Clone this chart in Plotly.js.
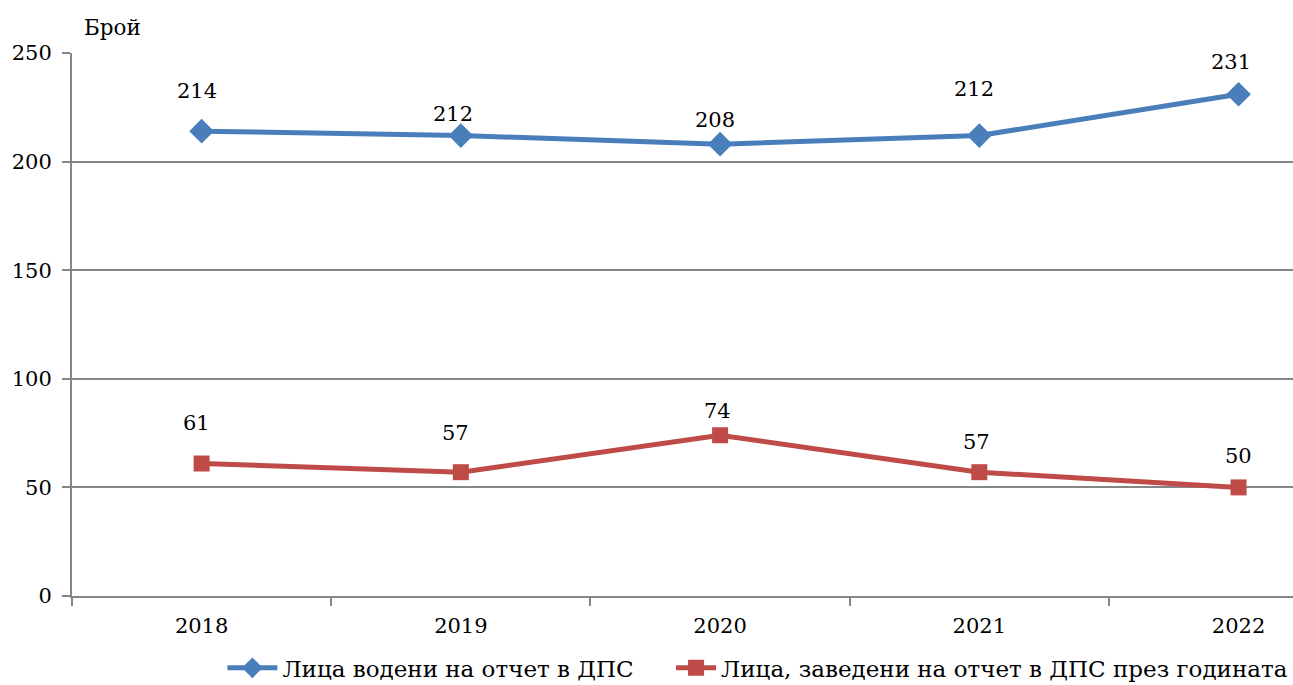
<!DOCTYPE html>
<html>
<head>
<meta charset="utf-8">
<script src="https://cdn.plot.ly/plotly-3.0.1.min.js"></script>
<style>html,body{margin:0;padding:0;background:#fff;}#chart{width:1293px;height:685px;}</style>
</head>
<body>
<div id="chart"></div>
<script>
var years = ['2018', '2019', '2020', '2021', '2022'];
var seriesNames = ['Лица водени на отчет в ДПС', 'Лица, заведени на отчет в ДПС през годината'];
var registered = [214, 212, 208, 212, 231];
var newlyRegistered = [61, 57, 74, 57, 50];
var yTicks = [0, 50, 100, 150, 200, 250];

// label offsets (px) – layout only
var offsetsBlue = [40, 22, 24, 47, 32];
var offsetsRed = [41, 39, 24, 30, 31];
var xShiftsBlue = [-5, -8, -5, -5, -8];
var xShiftsRed = [-5, -5, -3, -3, 0];

var font = 'DejaVu Serif';
var blue = '#4A7EBB';
var red = '#BE4B48';

var traces = [
  {x: years, y: registered, name: seriesNames[0], type: 'scatter', mode: 'lines+markers', legend: 'legend',
   line: {color: blue, width: 5}, marker: {symbol: 'diamond', size: 19, color: blue}},
  {x: years, y: newlyRegistered, name: seriesNames[1], type: 'scatter', mode: 'lines+markers', legend: 'legend2',
   line: {color: red, width: 5}, marker: {symbol: 'square', size: 16, color: red}}
];

var labelFont = {family: font, size: 21, color: '#000'};
var annotations = [];
years.forEach(function (yr, i) {
  annotations.push({x: i, y: registered[i], xref: 'x', yref: 'y', text: String(registered[i]),
    showarrow: false, yshift: offsetsBlue[i], xshift: xShiftsBlue[i], font: labelFont});
  annotations.push({x: i, y: newlyRegistered[i], xref: 'x', yref: 'y', text: String(newlyRegistered[i]),
    showarrow: false, yshift: offsetsRed[i], xshift: xShiftsRed[i], font: labelFont});
});
annotations.push({xref: 'paper', yref: 'paper', x: 0, y: 1, xanchor: 'left', yanchor: 'middle',
  xshift: 10, yshift: 26, text: 'Брой', showarrow: false, font: {family: font, size: 21.5, color: '#000'}});

var legendFont = {family: font, size: 23, color: '#000'};
var layout = {
  width: 1293, height: 685,
  margin: {l: 72, r: 0, t: 53, b: 89},
  paper_bgcolor: '#fff', plot_bgcolor: '#fff',
  font: {family: font, size: 21, color: '#000'},
  showlegend: true,
  legend: {orientation: 'h', xref: 'container', yref: 'container', x: 0.172, xanchor: 'left', y: 0.025, yanchor: 'middle',
    itemwidth: 50, font: legendFont, bgcolor: 'rgba(0,0,0,0)'},
  legend2: {orientation: 'h', xref: 'container', yref: 'container', x: 0.519, xanchor: 'left', y: 0.025, yanchor: 'middle',
    itemwidth: 40, font: legendFont, bgcolor: 'rgba(0,0,0,0)'},
  xaxis: {type: 'category', range: [-0.5, 4.21], tickson: 'boundaries', ticks: 'outside', ticklen: 8,
    tickcolor: '#868686', tickwidth: 2, showline: true, linecolor: '#868686', linewidth: 2,
    showgrid: false, zeroline: false, ticklabelstandoff: 10, fixedrange: true},
  yaxis: {range: [0, 250], tickvals: yTicks, ticks: 'outside', ticklen: 8, tickcolor: '#868686', tickwidth: 2,
    showline: true, linecolor: '#868686', linewidth: 2, showgrid: true, gridcolor: '#868686', gridwidth: 2,
    zeroline: false, ticklabelstandoff: 6, fixedrange: true},
  annotations: annotations
};

Plotly.newPlot('chart', traces, layout, {displayModeBar: false, staticPlot: true});
</script>
</body>
</html>
